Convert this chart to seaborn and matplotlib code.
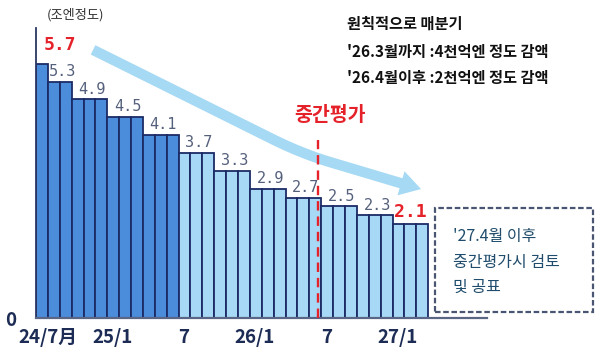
import matplotlib
matplotlib.use("Agg")
import matplotlib.pyplot as plt
import matplotlib.transforms as mtransforms
from matplotlib.patches import Rectangle
import numpy as np
import pandas as pd
import seaborn as sns

# ---------------- data ----------------
months = ["2024-07", "2024-08", "2024-09", "2024-10", "2024-11", "2024-12",
          "2025-01", "2025-02", "2025-03", "2025-04", "2025-05", "2025-06",
          "2025-07", "2025-08", "2025-09", "2025-10", "2025-11", "2025-12",
          "2026-01", "2026-02", "2026-03", "2026-04", "2026-05", "2026-06",
          "2026-07", "2026-08", "2026-09", "2026-10", "2026-11", "2026-12",
          "2027-01", "2027-02", "2027-03"]
purchase = [5.7, 5.3, 5.3, 4.9, 4.9, 4.9, 4.5, 4.5, 4.5, 4.1, 4.1, 4.1,
            3.7, 3.7, 3.7, 3.3, 3.3, 3.3, 2.9, 2.9, 2.9, 2.7, 2.7, 2.7,
            2.5, 2.5, 2.5, 2.3, 2.3, 2.3, 2.1, 2.1, 2.1]
phase = ["until 25/6"] * 12 + ["from 25/7"] * 21
tick_months = ["2024-07", "2025-01", "2025-07", "2026-01", "2026-07", "2027-01"]
tick_labels = ["24/7月", "25/1", "7", "26/1", "7", "27/1"]
highlight_labels = ["5.7", "2.1"]

unit_text = "(조엔정도)"
note_lines = ["원칙적으로 매분기",
              "'26.3월까지 :4천억엔 정도 감액",
              "'26.4월이후 :2천억엔 정도 감액"]
midterm_text = "중간평가"
midterm_month = "2026-07"
box_lines = ["'27.4월 이후", "중간평가시 검토", "및 공표"]

# ---------------- style ----------------
sns.set_style("white")
plt.rcParams["font.family"] = ["Noto Sans CJK KR", "DejaVu Sans"]

DARK = "#4b8cdb"
LIGHT = "#a7d9f6"
EDGE = "#1b2b66"
RED = "#e5222a"
VALCOL = "#55607c"
BAND = "#a5d9f4"

fig = plt.figure(figsize=(5.98, 3.5), dpi=100)
ax = fig.add_axes([36 / 598, 32 / 350, 451 / 598, 290 / 350])

df = pd.DataFrame({"month": months, "value": purchase, "phase": phase})
sns.barplot(data=df, x="month", y="value", hue="phase",
            palette={"until 25/6": DARK, "from 25/7": LIGHT},
            dodge=False, width=1.0, saturation=1, edgecolor=EDGE,
            linewidth=1.3, legend=False, ax=ax, zorder=2)

ax.set_xlim(-0.5, 37.45)
ax.set_ylim(0, 6.5)
ax.set_xlabel("")
ax.set_ylabel("")

# spines
for s in ["top", "right"]:
    ax.spines[s].set_visible(False)
ax.spines["left"].set_color("#2b3763")
ax.spines["left"].set_linewidth(1.3)
ax.spines["bottom"].set_color("#5b6686")
ax.spines["bottom"].set_linewidth(1.6)

# ticks
pos = [months.index(m) - 0.5 for m in tick_months]
ax.set_xticks(pos)
ax.set_xticklabels(tick_labels)
ax.tick_params(axis="x", direction="out", length=4, width=1.3, color=EDGE,
               pad=3, labelsize=13.5, labelcolor="#1d2c55")
for i, lab in enumerate(ax.get_xticklabels()):
    lab.set_fontweight("bold")
    extra = mtransforms.ScaledTranslation((12 if i == 0 else 5) / 100, 0, fig.dpi_scale_trans)
    lab.set_transform(lab.get_transform() + extra)
ax.set_yticks([0])
ax.set_yticklabels(["0"])
ax.tick_params(axis="y", direction="out", length=3, width=1.3, color=EDGE,
               pad=11, labelsize=13.5, labelcolor="#1d2c55")
for lab in ax.get_yticklabels():
    lab.set_fontweight("bold")

# value labels above each step
vals = np.array(purchase)
starts = [0] + [i for i in range(1, len(vals)) if vals[i] != vals[i - 1]]
ends = starts[1:] + [len(vals)]
for s, e in zip(starts, ends):
    v = vals[s]
    txt = f"{v:.1f}"
    if txt in highlight_labels:
        xc = (s + e - 1) / 2 + (1.5 if s == 0 else 0)
        ax.text(xc, v + 0.42 if s == 0 else v + 0.27, txt, ha="center", va="center",
                fontsize=13, fontweight="bold", color=RED,
                family=["DejaVu Sans Mono"], zorder=5)
    else:
        ax.text((s + e - 1) / 2 + 0.2, v + 0.23, txt, ha="center", va="center",
                fontsize=11, color=VALCOL, family=["DejaVu Sans Mono"], zorder=5)

# red dashed mid-term line
xm = months.index(midterm_month) - 0.75
ax.plot([xm, xm], [0, 4.0], color=RED, lw=1.7, dashes=(4, 2.5), zorder=4)
ax.text(xm + 0.95, 4.53, midterm_text, ha="center", va="center",
        fontsize=14, fontweight="bold", color=RED, zorder=5)

# big light-blue trend arrow (straight run, smooth bend, flatter run)
p0 = np.array([4.3, 6.01])
p1 = np.array([19.4, 4.01])
pc = np.array([21.9, 3.68])
pe = np.array([30.6, 2.99])
tip = np.array([31.9, 2.89])
p3 = pc + 0.28 * (pe - pc)
tt = np.linspace(0, 1, 40)[:, None]
curve = (1 - tt) ** 2 * p1 + 2 * (1 - tt) * tt * pc + tt ** 2 * p3
path = np.vstack([p0, curve, pe])
ax.plot(path[:, 0], path[:, 1], color=BAND, lw=7.5, solid_capstyle="butt",
        solid_joinstyle="round", zorder=3)
ax.annotate("", xy=tip, xytext=pe - (tip - pe) * 0.2,
            arrowprops=dict(arrowstyle="-|>,head_length=1.0,head_width=0.6",
                            mutation_scale=15, color=BAND, lw=0,
                            shrinkA=0, shrinkB=0), zorder=3)

# figure texts
fig.text(76 / 598, 1 - 15 / 350, unit_text, ha="center", va="center",
         fontsize=9.5, color="#333333")
for txt, ypx in zip(note_lines, [24, 52, 78]):
    fig.text(347 / 598, 1 - ypx / 350, txt, ha="left", va="center",
             fontsize=11, fontweight="bold", color="#111111")

# dashed box at right
fig.patches.append(Rectangle((435 / 598, 38 / 350), 158 / 598, 104 / 350,
                             transform=fig.transFigure, fill=False,
                             edgecolor="#4a5572", lw=1.6, linestyle=(0, (2.5, 1.2))))
for txt, ypx in zip(box_lines, [237, 262, 287]):
    fig.text(453 / 598, 1 - ypx / 350, txt, ha="left", va="center",
             fontsize=11.5, color="#1f4c6c")

fig.savefig("out.png", dpi=100)
